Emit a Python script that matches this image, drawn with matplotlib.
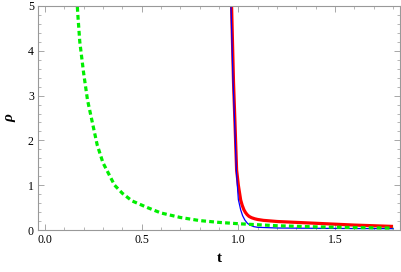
import matplotlib
matplotlib.use('Agg')
import matplotlib.pyplot as plt
from matplotlib.ticker import MultipleLocator

# values
t_green = [0.15, 0.16, 0.17, 0.18, 0.2, 0.22, 0.25, 0.27, 0.3, 0.33, 0.36, 0.4, 0.45,
           0.53, 0.6, 0.7, 0.8, 0.9, 1.0, 1.2, 1.4, 1.6, 1.8]
rho_green = [6.2, 5.5, 4.8, 4.2, 3.5, 2.9, 2.3, 1.9, 1.5, 1.25, 1.0, 0.82, 0.65,
             0.5, 0.38, 0.28, 0.21, 0.17, 0.14, 0.095, 0.07, 0.055, 0.042]

t_red = [0.955, 0.965, 0.975, 0.982, 0.991, 1.0, 1.012, 1.02, 1.029, 1.037, 1.045,
         1.055, 1.068, 1.085, 1.1, 1.13, 1.2, 1.3, 1.4, 1.5, 1.6, 1.7, 1.8]
rho_red = [6.0, 5.0, 3.3, 2.46, 1.34, 1.0, 0.67, 0.55, 0.45, 0.39, 0.345,
           0.305, 0.275, 0.25, 0.235, 0.215, 0.19, 0.17, 0.15, 0.13, 0.11, 0.095, 0.08]

t_blue = [0.95, 0.962, 0.972, 0.98, 0.99, 1.0, 1.012, 1.022, 1.034, 1.047, 1.06, 1.08,
          1.1, 1.2, 1.4, 1.6, 1.8]
rho_blue = [6.0, 5.0, 3.4, 2.5, 1.3, 0.68, 0.45, 0.32, 0.22, 0.15, 0.11, 0.075,
            0.06, 0.045, 0.038, 0.033, 0.03]

plt.rcParams['font.family'] = ['Liberation Serif', 'DejaVu Serif']

fig = plt.figure(figsize=(4.01, 2.72), dpi=100)
ax = fig.add_axes([0.0948, 0.1544, 0.9027, 0.8236])

ax.plot(t_red, rho_red, color='#ff0000', lw=2.3, solid_capstyle='butt')
ax.plot(t_blue, rho_blue, color='#0000ff', lw=0.9)
ax.plot(t_green, rho_green, color='#00ee00', lw=2.3, dashes=(1.5, 1.0))

ax.set_xlim(-0.036, 1.836)
ax.set_ylim(0, 5)
ax.xaxis.set_major_locator(MultipleLocator(0.5))
ax.xaxis.set_minor_locator(MultipleLocator(0.1))
ax.yaxis.set_major_locator(MultipleLocator(1))
ax.yaxis.set_minor_locator(MultipleLocator(0.2))
ax.xaxis.set_major_formatter(plt.FuncFormatter(lambda v, p: '%.1f' % v))

ax.tick_params(which='both', direction='in', top=True, right=True,
               color='#999999', labelsize=8.5, pad=3)
ax.tick_params(which='major', length=4, width=0.6)
ax.tick_params(which='minor', length=2, width=0.5)
for s in ax.spines.values():
    s.set_color('#999999')
    s.set_linewidth(0.8)

ax.set_xlabel('t', fontsize=11, fontweight='bold', labelpad=4)
ax.set_ylabel('ρ', fontsize=11, fontweight='bold', style='italic', labelpad=8)

fig.savefig('out.png', dpi=100)
